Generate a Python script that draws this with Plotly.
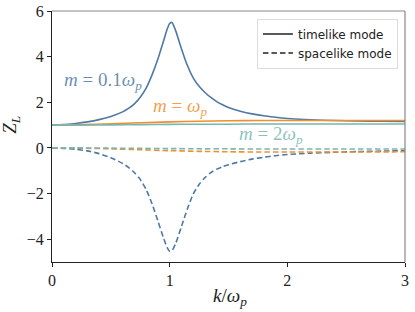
import plotly.graph_objects as go

# k / omega_p grid and Z_L values
k_blue = [0.0, 0.1, 0.2, 0.3, 0.4, 0.5, 0.6, 0.65, 0.7, 0.75, 0.8, 0.85, 0.9, 0.95, 0.98, 1.0, 1.02,
          1.05, 1.1, 1.15, 1.2, 1.25, 1.3, 1.35, 1.4, 1.45, 1.5, 1.6, 1.7, 1.8, 1.9, 2.0, 2.2, 2.4, 2.6, 2.8, 3.0]
blue_time = [1.00, 1.02, 1.07, 1.14, 1.24, 1.38, 1.58, 1.73, 1.93, 2.22, 2.62, 3.2, 3.9, 4.72, 5.22, 5.45, 5.5,
             5.15, 4.35, 3.62, 3.07, 2.70, 2.43, 2.21, 2.03, 1.89, 1.77, 1.61, 1.49, 1.41, 1.34, 1.29, 1.23, 1.2, 1.18, 1.17, 1.16]
blue_space = [0.0, -0.02, -0.06, -0.13, -0.25, -0.43, -0.68, -0.85, -1.08, -1.38, -1.82, -2.45, -3.2, -3.98, -4.38, -4.53, -4.5,
              -4.2, -3.45, -2.68, -2.02, -1.6, -1.3, -1.08, -0.93, -0.82, -0.74, -0.6, -0.49, -0.41, -0.34, -0.29, -0.23, -0.19, -0.16, -0.14, -0.12]

k_other = [0.0, 0.25, 0.5, 0.75, 1.0, 1.25, 1.5, 1.75, 2.0, 2.5, 3.0]
orange_time = [1.00, 1.02, 1.06, 1.10, 1.14, 1.17, 1.19, 1.20, 1.20, 1.20, 1.20]
orange_space = [0.0, -0.01, -0.04, -0.08, -0.12, -0.15, -0.17, -0.18, -0.18, -0.18, -0.17]
teal_time = [1.00, 1.00, 1.01, 1.02, 1.03, 1.04, 1.04, 1.05, 1.05, 1.05, 1.05]
teal_space = [0.0, 0.0, -0.01, -0.02, -0.03, -0.04, -0.04, -0.05, -0.05, -0.05, -0.05]

x_ticks = [0, 1, 2, 3]
y_ticks = [-4, -2, 0, 2, 4, 6]

BLUE = "#4e79a7"
ORANGE = "#f28e2b"
TEAL = "#76b7b2"
DASH = "5.5px,3px"
SERIF = "Liberation Serif, DejaVu Serif, serif"

fig = go.Figure()

series = [
    (k_blue, blue_time, blue_space, BLUE),
    (k_other, orange_time, orange_space, ORANGE),
    (k_other, teal_time, teal_space, TEAL),
]
for kk, yt, ys, c in series:
    fig.add_trace(go.Scatter(x=kk, y=yt, mode="lines", showlegend=False,
                             line=dict(color=c, width=1.6, shape="spline", smoothing=0.6)))
    fig.add_trace(go.Scatter(x=kk, y=ys, mode="lines", showlegend=False,
                             line=dict(color=c, width=1.6, dash=DASH, shape="spline", smoothing=0.6)))

fig.add_trace(go.Scatter(x=[None], y=[None], mode="lines", name="timelike mode",
                         line=dict(color="#222222", width=1.6)))
fig.add_trace(go.Scatter(x=[None], y=[None], mode="lines", name="spacelike mode",
                         line=dict(color="#222222", width=1.6, dash=DASH)))

fig.add_annotation(x=0.43, y=2.95, text="<i>m</i> = 0.1<i>ω</i><sub><i>p</i></sub>", showarrow=False,
                   font=dict(family=SERIF, size=19, color="rgba(78,121,167,0.85)"))
fig.add_annotation(x=1.09, y=1.8, text="<i>m</i> = <i>ω</i><sub><i>p</i></sub>", showarrow=False,
                   font=dict(family=SERIF, size=19, color="rgba(242,142,43,0.85)"))
fig.add_annotation(x=1.86, y=0.55, text="<i>m</i> = 2<i>ω</i><sub><i>p</i></sub>", showarrow=False,
                   font=dict(family=SERIF, size=19, color="rgba(118,183,178,0.85)"))

# axis titles
fig.add_annotation(xref="paper", yref="paper", x=0.504, y=-0.085, yanchor="top",
                   text="<i>k</i>/<i>ω</i><sub><i>p</i></sub>", showarrow=False,
                   font=dict(family=SERIF, size=19, color="#222222"))
fig.add_annotation(xref="paper", yref="paper", x=-0.075, y=0.545, xanchor="right",
                   text="<i>Z</i><sub><i>L</i></sub>", showarrow=False, textangle=-90,
                   font=dict(family=SERIF, size=19, color="#222222"))

# gray top and right spines
fig.add_shape(type="line", xref="paper", yref="paper", x0=0, x1=1, y0=1, y1=1,
              line=dict(color="#888888", width=1.2))
fig.add_shape(type="line", xref="paper", yref="paper", x0=1, x1=1, y0=0, y1=1,
              line=dict(color="#888888", width=1.2))

fig.update_layout(
    width=415, height=312,
    margin=dict(l=52, r=10, t=11, b=50),
    plot_bgcolor="white", paper_bgcolor="white",
    legend=dict(x=0.98, y=0.97, xanchor="right", yanchor="top",
                bgcolor="rgba(255,255,255,0.8)", bordercolor="#dddddd", borderwidth=1,
                font=dict(family="DejaVu Sans, sans-serif", size=12, color="#222222")),
    xaxis=dict(range=[0, 3], tickvals=x_ticks, ticks="outside", ticklen=4, tickcolor="#222222",
               showline=True, linecolor="#222222", linewidth=1.2, showgrid=False, zeroline=False,
               automargin=False,
               tickfont=dict(family=SERIF, size=16, color="#222222")),
    yaxis=dict(range=[-5, 6], tickvals=y_ticks, ticktext=["−4", "−2", "0", "2", "4", "6"],
               ticks="outside", ticklen=4, tickcolor="#222222", automargin=False,
               showline=True, linecolor="#222222", linewidth=1.2, showgrid=False, zeroline=False,
               tickfont=dict(family=SERIF, size=16, color="#222222")),
)

fig.write_html("out.html", config={"displayModeBar": False},
               post_script="document.body.style.margin='0px';")
